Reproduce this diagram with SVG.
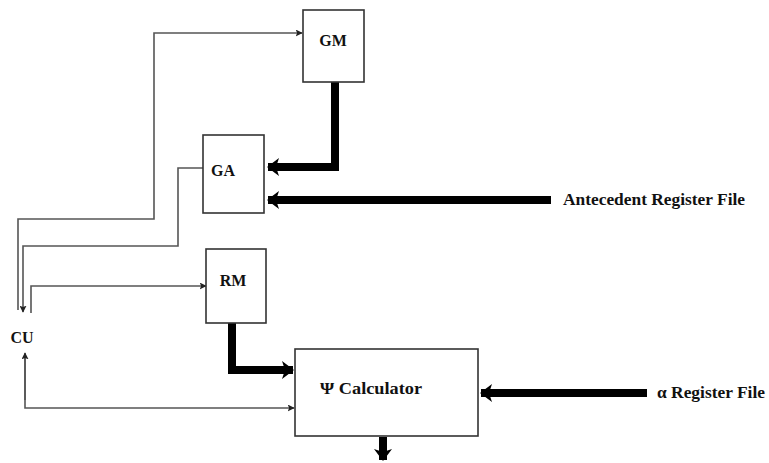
<svg xmlns="http://www.w3.org/2000/svg" width="769" height="463" viewBox="0 0 769 463">
  <style>
    .box { fill: #ffffff; stroke: #333333; stroke-width: 1.6; }
    .lbl { font-family: "Liberation Serif", "DejaVu Serif", serif; font-weight: bold; font-size: 16px; fill: #111111; }
    .thin { fill: none; stroke: #555555; stroke-width: 1.6; }
    .thick { fill: none; stroke: #000000; stroke-width: 8; }
  </style>
  <defs>
    <marker id="headThin" viewBox="0 0 10 10" refX="9" refY="5" markerWidth="7" markerHeight="7" markerUnits="userSpaceOnUse" orient="auto">
      <path d="M0,0 L10,5 L0,10 L2,5 Z" fill="#222222"/>
    </marker>
    <marker id="headThick" viewBox="0 0 12 18" refX="11" refY="9" markerWidth="12" markerHeight="18" markerUnits="userSpaceOnUse" orient="auto">
      <path d="M0,0 L12,9 L0,18 L3,9 Z" fill="#000000"/>
    </marker>
  </defs>

  <g id="connectors">
    <!-- CU -> GM -->
    <polyline class="thin" points="18,310 18,219 154,219 154,33 302,33" marker-end="url(#headThin)"/>
    <!-- GA -> CU -->
    <polyline class="thin" points="203,168 178,168 178,246 23,246 23,312" marker-end="url(#headThin)"/>
    <!-- CU -> RM -->
    <polyline class="thin" points="31,313 31,286 206,286" marker-end="url(#headThin)"/>
    <!-- CU <-> Psi Calculator -->
    <polyline class="thin" points="25,355 25,408 294,408" marker-end="url(#headThin)"/>
    <polyline class="thin" points="25,400 25,353" marker-end="url(#headThin)"/>
    <!-- GM -> GA -->
    <polyline class="thick" points="335,82 335,167 268,167" marker-end="url(#headThick)"/>
    <!-- Antecedent Register File -> GA -->
    <polyline class="thick" points="551,200 268,200" marker-end="url(#headThick)"/>
    <!-- RM -> Psi Calculator -->
    <polyline class="thick" points="232,323 232,370 293,370" marker-end="url(#headThick)"/>
    <!-- alpha Register File -> Psi Calculator -->
    <polyline class="thick" points="647,393 481,393" marker-end="url(#headThick)"/>
    <!-- Psi Calculator output -->
    <polyline class="thick" points="383,437 383,460" marker-end="url(#headThick)"/>
  </g>

  <g id="GM">
    <rect class="box" x="303" y="10" width="61" height="72"/>
    <text class="lbl" x="333" y="46" text-anchor="middle">GM</text>
  </g>
  <g id="GA">
    <rect class="box" x="203" y="135" width="61" height="78"/>
    <text class="lbl" x="223" y="176" text-anchor="middle">GA</text>
  </g>
  <g id="RM">
    <rect class="box" x="206" y="249" width="60" height="74"/>
    <text class="lbl" x="233" y="286" text-anchor="middle">RM</text>
  </g>
  <g id="PsiCalculator">
    <rect class="box" x="295" y="349" width="183" height="87"/>
    <text class="lbl" x="320" y="394" textLength="102" lengthAdjust="spacingAndGlyphs">Ψ  Calculator</text>
  </g>
  <g id="CU">
    <text class="lbl" x="22" y="343" text-anchor="middle">CU</text>
  </g>
  <g id="AntecedentRegisterFile">
    <text class="lbl" x="563" y="205" textLength="182" lengthAdjust="spacingAndGlyphs">Antecedent Register File</text>
  </g>
  <g id="AlphaRegisterFile">
    <text class="lbl" x="657" y="398" textLength="108" lengthAdjust="spacingAndGlyphs">α Register File</text>
  </g>
</svg>
